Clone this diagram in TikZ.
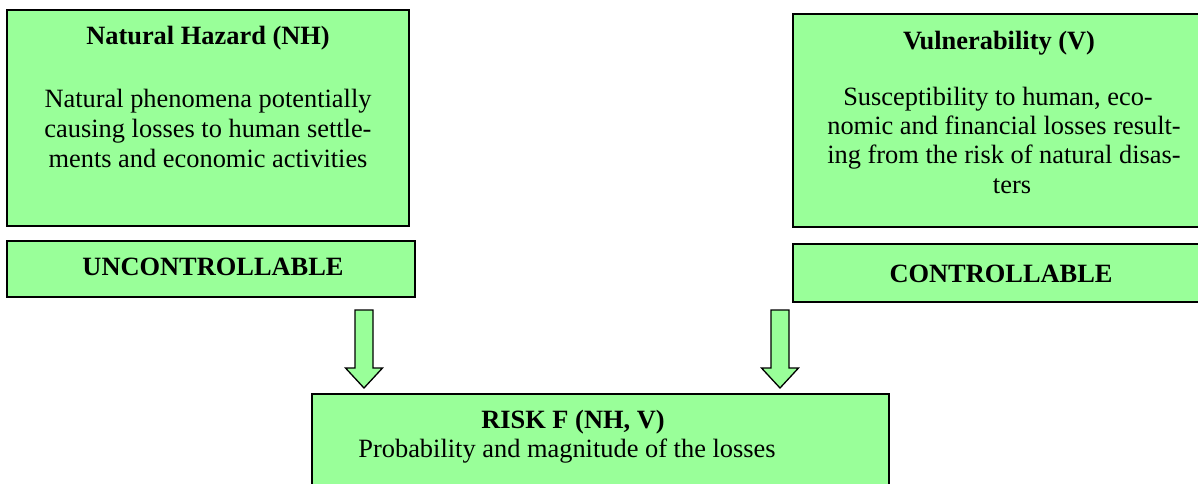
\documentclass[tikz,border=0pt]{standalone}
\usepackage{fontspec}
\setmainfont{Liberation Serif}
\definecolor{boxgreen}{HTML}{99FF99}
\tikzset{
  gbox/.style={draw=black, line width=1.3pt, fill=boxgreen},
  txt/.style={anchor=base, inner sep=0pt, font=\fontsize{26.4}{30}\selectfont},
  ttl/.style={txt, font=\fontsize{26.4}{30}\selectfont\bfseries},
  barrow/.style={draw=black, line width=1.3pt, fill=boxgreen, line join=miter}
}
\newcommand\downblock[4]{% name, x, top, tip
  \draw[barrow] (#2-9,#3) -- (#2+9,#3) -- (#2+9,#4-20) -- (#2+18.5,#4-20)
    -- (#2,#4) -- (#2-18.5,#4-20) -- (#2-9,#4-20) -- cycle;
}
\begin{document}
\begin{tikzpicture}[x=1pt,y=-1pt]
\useasboundingbox (0,0) rectangle (1198,484);
\clip (0,0) rectangle (1198,484);
% boxes
\draw[gbox] (7,10) rectangle (409,226);
\coordinate (nh) at (208,118);
\draw[gbox] (7,241) rectangle (415,297);
\coordinate (unc) at (211,269);
\draw[gbox] (793,14) rectangle (1210,227);
\coordinate (vul) at (1000,120);
\draw[gbox] (793,244) rectangle (1210,302);
\coordinate (con) at (1000,273);
\draw[gbox] (312,394) rectangle (889,520);
\coordinate (risk) at (600,440);
% texts
\node[ttl] (nht) at (208,45) {Natural Hazard (NH)};
\node[txt] (nh1) at (208,107) {Natural phenomena potentially};
\node[txt] (nh2) at (208,137) {causing losses to human settle-};
\node[txt] (nh3) at (208,167) {ments and economic activities};
\node[ttl] (unct) at (213,275) {UNCONTROLLABLE};
\node[ttl] (vt) at (999,50) {Vulnerability (V)};
\node[txt] (v1) at (998,106) {Susceptibility to human, eco-};
\node[txt] (v2) at (1004,135) {nomic and financial losses result-};
\node[txt] (v3) at (1004,163) {ing from the risk of natural disas-};
\node[txt] (v4) at (1012,193) {ters};
\node[ttl] (cont) at (1001,282) {CONTROLLABLE};
\node[ttl] (rt) at (573,428) {RISK F (NH, V)};
\node[txt] (r1) at (567,457) {Probability and magnitude of the losses};
% block arrows
\downblock{a1}{364}{310}{388}
\downblock{a2}{780}{310}{388}
\end{tikzpicture}
\end{document}
